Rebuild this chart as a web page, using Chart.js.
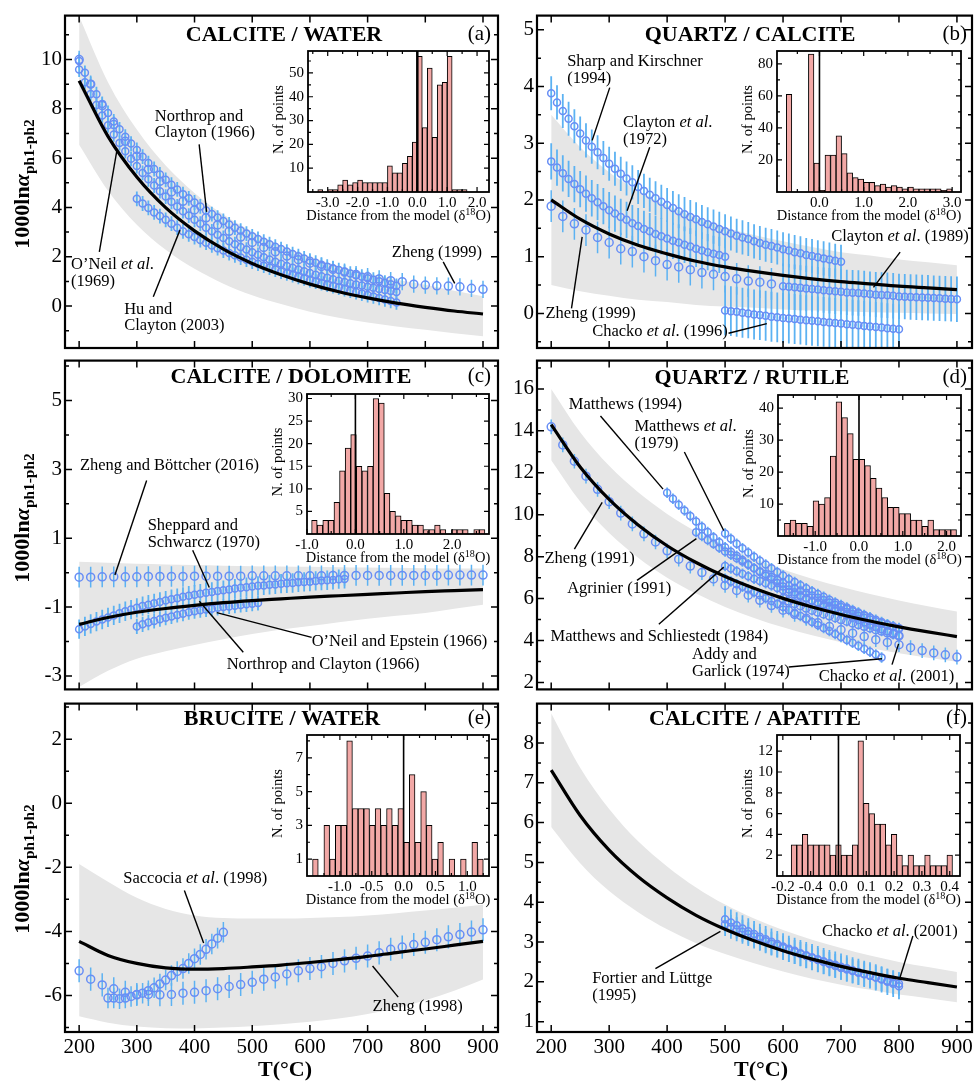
<!DOCTYPE html>
<html><head><meta charset="utf-8">
<script src="https://cdn.jsdelivr.net/npm/chart.js@4.4.1/dist/chart.umd.min.js"></script>
<style>
html,body{margin:0;padding:0;background:#fff;}
#wrap{position:relative;width:980px;height:1089px;overflow:hidden;background:#fff;}
#wrap canvas{position:absolute;}
</style></head><body><div id="wrap"></div>
<script>
// ================= DATA =================
const X_TICKS=[200,300,400,500,600,700,800,900];
const T_MODEL=[200,250,300,350,400,450,500,550,600,650,700,750,800,850,900];
const T_20=[200,220,240,260,280,300,320,340,360,380,400,420,440,460,480,500,520,540,560,580,600,620,640,660,680,700,720,740,760,780,800,820,840,860,880,900];
const T_200_750=[200,210,220,230,240,250,260,270,280,290,300,310,320,330,340,350,360,370,380,390,400,410,420,430,440,450,460,470,480,490,500,510,520,530,540,550,560,570,580,590,600,610,620,630,640,650,660,670,680,690,700,710,720,730,740,750];
const T_300_750=[300,310,320,330,340,350,360,370,380,390,400,410,420,430,440,450,460,470,480,490,500,510,520,530,540,550,560,570,580,590,600,610,620,630,640,650,660,670,680,690,700,710,720,730,740,750];
const T_200_700=[200,210,220,230,240,250,260,270,280,290,300,310,320,330,340,350,360,370,380,390,400,410,420,430,440,450,460,470,480,490,500,510,520,530,540,550,560,570,580,590,600,610,620,630,640,650,660,670,680,690,700];
const T_200_500=[200,210,220,230,240,250,260,270,280,290,300,310,320,330,340,350,360,370,380,390,400,410,420,430,440,450,460,470,480,490,500];
const T_200_580=[200,220,240,260,280,300,320,340,360,380,400,420,440,460,480,500,520,540,560,580];
const T_500_800=[500,510,520,530,540,550,560,570,580,590,600,610,620,630,640,650,660,670,680,690,700,710,720,730,740,750,760,770,780,790,800];
const T_600_900=[600,610,620,630,640,650,660,670,680,690,700,710,720,730,740,750,760,770,780,790,800,810,820,830,840,850,860,870,880,890,900];
const T_200_660=[200,210,220,230,240,250,260,270,280,290,300,310,320,330,340,350,360,370,380,390,400,410,420,430,440,450,460,470,480,490,500,510,520,530,540,550,560,570,580,590,600,610,620,630,640,650,660];
const T_300_510=[300,310,320,330,340,350,360,370,380,390,400,410,420,430,440,450,460,470,480,490,500,510];
const T_400_800=[400,410,420,430,440,450,460,470,480,490,500,510,520,530,540,550,560,570,580,590,600,610,620,630,640,650,660,670,680,690,700,710,720,730,740,750,760,770,780,790,800];
const T_450_750=[450,460,470,480,490,500,510,520,530,540,550,560,570,580,590,600,610,620,630,640,650,660,670,680,690,700,710,720,730,740,750];
const T_500_770=[500,510,520,530,540,550,560,570,580,590,600,610,620,630,640,650,660,670,680,690,700,710,720,730,740,750,760,770];
const T_600_800=[600,610,620,630,640,650,660,670,680,690,700,710,720,730,740,750,760,770,780,790,800];
const T_250_450=[250,260,270,280,290,300,310,320,330,340,350,360,370,380,390,400,410,420,430,440,450];

// (a) calcite / water
const aModel=[9.14,6.88,5.23,3.99,3.05,2.31,1.73,1.27,0.89,0.58,0.33,0.12,-0.05,-0.20,-0.32];
const aBandHi=[11.74,9.08,7.16,5.70,4.59,3.71,3.02,2.46,2.01,1.63,1.33,1.07,0.86,0.62,0.40];
const aBandLo=[6.54,4.68,3.30,2.28,1.51,0.91,0.44,0.08,-0.23,-0.47,-0.67,-0.83,-0.96,-1.10,-1.22];
const aNorthrop=[9.94,9.46,9.01,8.59,8.20,7.83,7.49,7.17,6.87,6.59,6.33,6.06,5.80,5.56,5.34,5.12,4.92,4.73,4.54,4.37,4.20,4.04,3.88,3.73,3.59,3.45,3.31,3.18,3.06,2.94,2.83,2.72,2.61,2.51,2.41,2.31,2.21,2.11,2.02,1.93,1.84,1.76,1.68,1.60,1.53,1.46,1.39,1.32,1.25,1.19,1.13,1.07,1.01,0.95,0.89,0.82];
const aONeil=[9.59,9.08,8.60,8.15,7.73,7.33,6.96,6.61,6.28,5.97,5.68,5.40,5.14,4.89,4.66,4.44,4.23,4.04,3.85,3.67,3.50,3.34,3.18,3.03,2.89,2.76,2.63,2.51,2.40,2.29,2.18,2.08,1.98,1.89,1.80,1.72,1.63,1.55,1.48,1.41,1.34,1.27,1.21,1.15,1.09,1.03,0.98,0.93,0.88,0.83,0.78,0.74,0.69,0.65,0.61,0.57];
const aHu=[4.35,4.16,3.98,3.80,3.65,3.50,3.34,3.18,3.03,2.91,2.80,2.68,2.57,2.46,2.35,2.25,2.15,2.06,1.97,1.88,1.80,1.72,1.64,1.56,1.48,1.40,1.33,1.26,1.19,1.12,1.05,0.99,0.93,0.87,0.81,0.75,0.69,0.63,0.57,0.51,0.45,0.39,0.33,0.27,0.21,0.15];
const aZheng=[10.0,9.0,8.13,7.36,6.68,6.08,5.54,5.06,4.63,4.25,3.90,3.58,3.29,3.03,2.80,2.58,2.38,2.20,2.03,1.88,1.74,1.61,1.49,1.38,1.28,1.19,1.10,1.03,0.99,0.89,0.85,0.82,0.81,0.78,0.72,0.68];

// (b) quartz / calcite
const bModel=[2.00,1.66,1.40,1.20,1.05,0.92,0.82,0.74,0.67,0.61,0.56,0.52,0.48,0.45,0.42];
const bBandHi=[3.50,2.93,2.49,2.16,1.90,1.69,1.52,1.38,1.27,1.17,1.08,1.02,0.95,0.90,0.85];
const bBandLo=[0.50,0.39,0.31,0.24,0.20,0.15,0.12,0.10,0.07,0.05,0.04,0.02,0.01,0.00,-0.01];
const bSharp=[3.88,3.72,3.57,3.43,3.30,3.17,3.05,2.94,2.84,2.74,2.64,2.55,2.46,2.38,2.31,2.23,2.16,2.09,2.03,1.97,1.91,1.86,1.80,1.75,1.70,1.66,1.61,1.57,1.53,1.49,1.45,1.41,1.37,1.34,1.31,1.27,1.24,1.21,1.19,1.16,1.13,1.11,1.08,1.06,1.03,1.01,0.99,0.97,0.95,0.93,0.91];
const bClayton72=[2.68,2.57,2.47,2.37,2.28,2.19,2.11,2.03,1.96,1.89,1.82,1.76,1.70,1.65,1.59,1.54,1.49,1.45,1.40,1.36,1.32,1.28,1.25,1.21,1.18,1.14,1.11,1.08,1.05,1.03,1.00];
const bZheng=[1.89,1.71,1.58,1.47,1.34,1.25,1.14,1.09,1.00,0.93,0.86,0.82,0.77,0.72,0.69,0.65,0.61,0.57,0.55,0.52];
const bChacko=[0.05,0.04,0.03,0.01,0.00,-0.02,-0.03,-0.04,-0.06,-0.07,-0.08,-0.09,-0.10,-0.11,-0.12,-0.13,-0.14,-0.15,-0.16,-0.17,-0.18,-0.19,-0.20,-0.21,-0.22,-0.23,-0.24,-0.25,-0.26,-0.27,-0.28];
const bClayton89=[0.48,0.47,0.46,0.45,0.44,0.43,0.42,0.41,0.40,0.39,0.38,0.37,0.365,0.36,0.35,0.34,0.33,0.325,0.32,0.31,0.30,0.295,0.29,0.285,0.28,0.275,0.27,0.265,0.26,0.255,0.25];

// (c) calcite / dolomite
const cModel=[-1.50,-1.30,-1.15,-1.04,-0.95,-0.87,-0.81,-0.76,-0.71,-0.67,-0.63,-0.59,-0.55,-0.52,-0.49];
const cBandHi=[0.32,0.29,0.26,0.24,0.22,0.20,0.19,0.18,0.17,0.16,0.15,0.14,0.13,0.12,0.12];
const cBandLo=[-3.32,-2.85,-2.50,-2.28,-2.10,-1.93,-1.78,-1.65,-1.55,-1.44,-1.34,-1.25,-1.17,-1.05,-0.93];
const cZhengB=[-0.13,-0.13,-0.12,-0.12,-0.12,-0.12,-0.11,-0.11,-0.11,-0.11,-0.10,-0.10,-0.10,-0.10,-0.10,-0.09,-0.09,-0.09,-0.09,-0.09,-0.09,-0.09,-0.08,-0.08,-0.08,-0.08,-0.08,-0.08,-0.08,-0.08,-0.08,-0.08,-0.07,-0.07,-0.07,-0.07];
const cSheppard=[-1.64,-1.56,-1.49,-1.42,-1.36,-1.30,-1.24,-1.18,-1.12,-1.07,-1.02,-0.97,-0.93,-0.89,-0.85,-0.81,-0.77,-0.74,-0.70,-0.67,-0.64,-0.61,-0.58,-0.56,-0.53,-0.51,-0.49,-0.46,-0.44,-0.42,-0.40,-0.38,-0.37,-0.35,-0.34,-0.32,-0.31,-0.30,-0.28,-0.27,-0.26,-0.24,-0.23,-0.22,-0.21,-0.19,-0.18];
const cONeil=[-1.56,-1.50,-1.45,-1.40,-1.35,-1.31,-1.27,-1.23,-1.19,-1.15,-1.12,-1.09,-1.07,-1.05,-1.02,-1.00,-0.98,-0.96,-0.94,-0.92,-0.90,-0.88];

// (d) quartz / rutile
const dModel=[14.30,12.28,10.73,9.51,8.52,7.72,7.05,6.49,6.01,5.60,5.24,4.93,4.65,4.41,4.19];
const dBandHi=[16.00,13.93,12.33,11.07,10.04,9.20,8.50,7.90,7.39,6.95,6.56,6.22,5.91,5.64,5.39];
const dBandLo=[12.60,10.63,9.13,7.95,7.00,6.24,5.60,5.08,4.63,4.25,3.92,3.64,3.39,3.18,2.99];
const dZheng=[14.19,13.33,12.55,11.84,11.21,10.62,10.08,9.56,9.09,8.70,8.28,7.88,7.55,7.24,6.94,6.63,6.39,6.16,5.92,5.67,5.45,5.25,5.06,4.85,4.67,4.51,4.35,4.19,4.04,3.91,3.80,3.66,3.52,3.41,3.32,3.21];
const dMatthews94=[11.05,10.76,10.48,10.20,9.94,9.68,9.43,9.18,8.93,8.69,8.45,8.24,8.04,7.84,7.64,7.45,7.27,7.09,6.92,6.75,6.58,6.44,6.30,6.16,6.03,5.90,5.78,5.66,5.55,5.43,5.32,5.21,5.09,4.98,4.86,4.75,4.65,4.54,4.44,4.33,4.23];
const dMatthews79=[9.10,8.85,8.62,8.40,8.20,8.00,7.81,7.63,7.45,7.27,7.10,6.94,6.79,6.64,6.49,6.35,6.22,6.09,5.95,5.82,5.70,5.58,5.46,5.34,5.22,5.10,4.99,4.88,4.77,4.66,4.55];
const dAgrinier=[9.17,8.98,8.79,8.61,8.43,8.25,8.09,7.93,7.77,7.61,7.45,7.31,7.17,7.03,6.89,6.75,6.63,6.51,6.39,6.27,6.15,6.04,5.93,5.82,5.71,5.60,5.50,5.40,5.30,5.20,5.10];
const dSchliestedt=[7.55,7.43,7.31,7.19,7.07,6.95,6.84,6.73,6.62,6.51,6.40,6.30,6.20,6.10,6.00,5.90,5.81,5.72,5.63,5.54,5.45,5.36,5.27,5.18,5.09,5.00,4.92,4.84,4.76,4.68,4.60];
const dAddy=[6.95,6.82,6.69,6.56,6.43,6.30,6.16,6.02,5.88,5.74,5.60,5.46,5.31,5.17,5.02,4.88,4.74,4.60,4.46,4.31,4.17,4.03,3.89,3.75,3.61,3.47,3.33,3.19];
const dChacko=[6.00,5.88,5.77,5.66,5.55,5.45,5.36,5.27,5.18,5.09,5.00,4.92,4.84,4.76,4.68,4.60,4.52,4.45,4.37,4.30,4.22];

// (e) brucite / water
const eModel=[-4.31,-4.75,-5.00,-5.14,-5.18,-5.16,-5.11,-5.05,-4.97,-4.88,-4.78,-4.66,-4.55,-4.43,-4.31];
const eBandHi=[-1.90,-2.45,-2.95,-3.30,-3.50,-3.58,-3.60,-3.60,-3.58,-3.55,-3.50,-3.43,-3.35,-3.26,-3.17];
const eBandLo=[-6.65,-6.85,-6.97,-7.02,-7.03,-7.00,-6.96,-6.90,-6.82,-6.72,-6.58,-6.40,-6.15,-5.85,-5.50];
const eZheng=[-5.23,-5.49,-5.67,-5.79,-5.90,-5.97,-5.97,-5.98,-5.97,-5.93,-5.90,-5.85,-5.79,-5.72,-5.66,-5.59,-5.49,-5.42,-5.33,-5.23,-5.16,-5.10,-5.00,-4.92,-4.84,-4.77,-4.67,-4.56,-4.49,-4.41,-4.34,-4.26,-4.17,-4.10,-4.02,-3.95];
const eSaccocia=[-6.08,-6.08,-6.10,-6.08,-6.03,-5.98,-5.93,-5.85,-5.76,-5.64,-5.52,-5.38,-5.25,-5.16,-5.00,-4.85,-4.72,-4.56,-4.39,-4.21,-4.03];

// (f) calcite / apatite
const fModel=[7.32,6.18,5.31,4.64,4.11,3.67,3.32,3.03,2.78,2.57,2.39,2.23,2.09,1.98,1.87];
const fBandHi=[8.75,7.38,6.34,5.53,4.90,4.37,3.94,3.59,3.30,3.06,2.85,2.66,2.50,2.37,2.25];
const fBandLo=[5.89,4.98,4.28,3.75,3.32,2.97,2.70,2.47,2.26,2.08,1.93,1.80,1.68,1.59,1.49];
const fFortier=[3.57,3.49,3.42,3.34,3.27,3.20,3.13,3.07,3.01,2.95,2.89,2.83,2.78,2.72,2.67,2.62,2.57,2.52,2.47,2.43,2.38,2.34,2.29,2.25,2.20,2.16,2.11,2.06,2.00,1.95,1.89];
const fChacko=[3.45,3.38,3.32,3.26,3.20,3.14,3.08,3.02,2.96,2.91,2.85,2.80,2.75,2.70,2.65,2.60,2.55,2.50,2.45,2.40,2.35,2.31,2.27,2.23,2.19,2.15,2.11,2.07,2.03,1.99,1.95];

// inset histograms (bin centres, counts)
const insA_x=[-3.25,-3.083,-2.917,-2.75,-2.583,-2.417,-2.25,-2.083,-1.917,-1.75,-1.583,-1.417,-1.25,-1.083,-0.917,-0.75,-0.583,-0.417,-0.25,-0.083,0.083,0.25,0.417,0.583,0.75,0.917,1.083,1.25,1.417,1.583];
const insA_n=[1,0,1,1,3,5,3,4,5,4,4,4,4,4,11,8,8,12,15,21,57,27,52,23,45,46,57,1,1,1];
const insB_x=[-0.6875,-0.5625,-0.4375,-0.3125,-0.1875,-0.0625,0.0625,0.1875,0.3125,0.4375,0.5625,0.6875,0.8125,0.9375,1.0625,1.1875,1.3125,1.4375,1.5625,1.6875,1.8125,1.9375,2.0625,2.1875,2.3125,2.4375,2.5625,2.6875,2.8125,2.9375];
const insB_n=[61,0,0,0,86,18,1,23,23,35,24,12,9,8,6,6,4,5,3,4,3,2,3,2,2,2,2,2,1,2];
const insC_x=[-0.847,-0.732,-0.616,-0.501,-0.385,-0.270,-0.154,-0.039,0.077,0.193,0.308,0.424,0.539,0.655,0.770,0.886,1.001,1.117,1.232,1.348,1.463,1.579,1.694,1.810,1.925,2.041,2.156,2.272,2.387,2.503,2.618];
const insC_n=[3,2,3,3,7,14,19,22,15,14,15,30,29,9,5,4,3,3,2,2,1,1,2,1,0,1,1,1,0,1,1];
const insD_x=[-1.638,-1.507,-1.376,-1.245,-1.114,-0.983,-0.852,-0.721,-0.590,-0.459,-0.328,-0.197,-0.066,0.066,0.197,0.328,0.459,0.590,0.721,0.852,0.983,1.114,1.245,1.376,1.507,1.638,1.769,1.900,2.031,2.162];
const insD_n=[4,5,4,4,3,11,10,12,25,42,37,32,24,24,22,18,15,12,9,9,7,7,5,5,3,5,2,2,2,2];
const insE_x=[-1.384,-1.295,-1.206,-1.116,-1.027,-0.938,-0.848,-0.759,-0.670,-0.580,-0.491,-0.402,-0.313,-0.223,-0.134,-0.045,0.045,0.134,0.223,0.313,0.402,0.491,0.580,0.670,0.759,0.848,0.938,1.027,1.116,1.206];
const insE_n=[1,0,3,1,3,3,8,4,4,4,3,4,3,4,3,4,2,6,2,5,3,1,2,0,1,0,1,0,2,1];
const insF_x=[-0.16,-0.14,-0.12,-0.10,-0.08,-0.06,-0.04,-0.02,0,0.02,0.04,0.06,0.08,0.10,0.12,0.14,0.16,0.18,0.20,0.22,0.24,0.26,0.28,0.30,0.32,0.34,0.36,0.38,0.40];
const insF_n=[3,3,4,3,3,3,3,2,3,2,2,3,13,7,6,5,5,3,4,2,1,2,1,1,2,1,1,1,2];
const insF_ticks=[-0.2,-0.1,0,0.1,0.2,0.3,0.4];
const insF_labels=['-0.2','-0.4','0.0','0.1','0.2','0.3','0.4'];

// ================= STYLE / HELPERS =================
const SERIF='"Liberation Serif","Times New Roman",Times,serif';
const CIRC='rgb(104,142,245)', ERRC='rgb(92,178,242)', GREY='rgb(230,230,230)', BARC='rgb(242,168,166)';
const NOTE_SIZE=16.5, NOTE_LH=16.7;
const X_RANGE=[175.5,926];
const wrap=document.getElementById('wrap');
function pts(xs,ys){return xs.map((x,i)=>({x:x,y:ys[i]}));}
function newCanvas(b){const c=document.createElement('canvas');c.width=b.w;c.height=b.h;c.style.left=b.l+'px';c.style.top=b.t+'px';c.style.width=b.w+'px';c.style.height=b.h+'px';wrap.appendChild(c);return c;}
// padding leaves room for fixed-size axis boxes (wy = y-axis width, hx = x-axis height)
function pad(b,f,wy,hx){return {left:f.l-b.l-wy,top:f.t-b.t,right:b.l+b.w-f.r,bottom:b.t+b.h-f.b-hx};}
function parseRich(s){const out=[];const re=/\*([^*]+)\*|\^\{([^}]+)\}|_\{([^}]+)\}/g;let last=0,m;
 while((m=re.exec(s))!==null){if(m.index>last)out.push({t:s.slice(last,m.index),k:'n'});
  if(m[1]!==undefined)out.push({t:m[1],k:'i'});else if(m[2]!==undefined)out.push({t:m[2],k:'sup'});else out.push({t:m[3],k:'sub'});
  last=re.lastIndex;}
 if(last<s.length)out.push({t:s.slice(last),k:'n'});return out;}
function drawRich(c,s,x,y,size,weight,align){
 const parts=parseRich(s);let w=0;
 parts.forEach(p=>{const sz=(p.k==='sup'||p.k==='sub')?size*0.7:size;p.f=(p.k==='i'?'italic ':'')+weight+' '+sz+'px '+SERIF;c.font=p.f;p.w=c.measureText(p.t).width;w+=p.w;});
 let cx=align==='center'?x-w/2:(align==='right'?x-w:x);
 c.textAlign='left';
 parts.forEach(p=>{c.font=p.f;const dy=p.k==='sup'?-size*0.36:(p.k==='sub'?size*0.24:0);c.fillText(p.t,cx,y+dy);cx+=p.w;});}

function makeDeco(o){
 return {id:'deco',
  beforeDraw(chart){ if(!o.white)return; const a=chart.chartArea,c=chart.ctx;c.save();c.fillStyle='#fff';c.fillRect(a.left,a.top,a.right-a.left,a.bottom-a.top);c.restore();},
  afterDatasetDraw(chart,args){
   const ds=chart.data.datasets[args.index]; if(!ds.errHook)return;
   const c=chart.ctx,a=chart.chartArea,ys=chart.scales.y;
   c.save();c.beginPath();c.rect(a.left,a.top,a.right-a.left,a.bottom-a.top);c.clip();c.strokeStyle=ERRC;
   chart.data.datasets.forEach((d,i)=>{ if(d.errs==null)return; const meta=chart.getDatasetMeta(i); c.lineWidth=d.errW||1.2; c.beginPath();
     d.data.forEach((p,j)=>{const el=meta.data[j]; if(!el)return; c.moveTo(el.x,ys.getPixelForValue(p.y-d.errs)); c.lineTo(el.x,ys.getPixelForValue(p.y+d.errs));});
     c.stroke();});
   c.restore();},
  afterDraw(chart){
   const c=chart.ctx,a=chart.chartArea,xs=chart.scales.x,ys=chart.scales.y,bx=o.box;
   c.save();
   if(o.zero){const px=xs.getPixelForValue(0);c.strokeStyle='#000';c.lineWidth=o.zero;c.beginPath();c.moveTo(px,a.bottom);c.lineTo(px,a.top);c.stroke();}
   const tk=o.ticks;c.strokeStyle='#000';c.lineWidth=tk.tw;c.beginPath();
   const hx=(v,L)=>{const p=xs.getPixelForValue(v);c.moveTo(p,a.bottom);c.lineTo(p,a.bottom-L);c.moveTo(p,a.top);c.lineTo(p,a.top+L);};
   const hy=(v,L)=>{const p=ys.getPixelForValue(v);c.moveTo(a.left,p);c.lineTo(a.left+L,p);c.moveTo(a.right,p);c.lineTo(a.right-L,p);};
   tk.xMaj.forEach(v=>hx(v,tk.maj));(tk.xMin||[]).forEach(v=>hx(v,tk.min));tk.yMaj.forEach(v=>hy(v,tk.maj));(tk.yMin||[]).forEach(v=>hy(v,tk.min));
   c.stroke();
   c.lineWidth=tk.lw;c.strokeRect(a.left,a.top,a.right-a.left,a.bottom-a.top);
   c.fillStyle='#000';
   (o.notes||[]).forEach(n=>{
     if(n.lead){c.lineWidth=1.4;c.beginPath();c.moveTo(xs.getPixelForValue(n.lead[0][0]),ys.getPixelForValue(n.lead[0][1]));c.lineTo(xs.getPixelForValue(n.lead[1][0]),ys.getPixelForValue(n.lead[1][1]));c.stroke();}
     c.textBaseline='middle';const x0=xs.getPixelForValue(n.x),y0=ys.getPixelForValue(n.y);
     n.t.forEach((line,i)=>drawRich(c,line,x0,y0+i*NOTE_LH,NOTE_SIZE,'normal','left'));
   });
   (o.texts||[]).forEach(t=>{
     c.textBaseline=t.base||'alphabetic';const x=t.x-bx.l,y=t.y-bx.t;
     if(t.rot){c.save();c.translate(x,y);c.rotate(-Math.PI/2);drawRich(c,t.t,0,0,t.size,t.weight||'normal','center');c.restore();}
     else drawRich(c,t.t,x,y,t.size,t.weight||'normal',t.align||'left');
   });
   c.restore();}
 };
}

// dense series: r 3.5, error-bar width 1.8 ; sparse series: r 4, width 1.5
function sc(T,V,err,sparse){return {type:'scatter',data:pts(T,V),errs:err,errW:sparse?1.5:1.8,pointRadius:sparse?4:3.5,pointBorderWidth:1.5,pointBorderColor:CIRC,pointBackgroundColor:'rgba(0,0,0,0)',borderColor:CIRC,backgroundColor:'rgba(0,0,0,0)',showLine:false,order:5};}
function band(T,hi,lo){return [
 {type:'line',data:pts(T,hi),borderWidth:0,borderColor:'rgba(0,0,0,0)',pointRadius:0,fill:false,cubicInterpolationMode:'monotone',order:9},
 {type:'line',data:pts(T,lo),borderWidth:0,borderColor:'rgba(0,0,0,0)',pointRadius:0,fill:'-1',backgroundColor:GREY,cubicInterpolationMode:'monotone',order:9,errHook:true}];}
function model(T,V){return {type:'line',data:pts(T,V),borderColor:'#000',borderWidth:3.2,pointRadius:0,fill:false,cubicInterpolationMode:'monotone',order:1};}

const NOGRID={display:false,drawTicks:false,drawOnChartArea:false};
const MAIN_WY=42, MAIN_HX=30;
function mainChart(box,frame,yr,yLab,yMin,datasets,notes,texts,showX){
 const c=newCanvas(box);
 const hx=showX?MAIN_HX:0;
 return new Chart(c,{type:'scatter',data:{datasets:datasets},options:{
  responsive:false,animation:false,devicePixelRatio:1,events:[],
  layout:{padding:pad(box,frame,MAIN_WY,hx)},
  scales:{
   x:{type:'linear',min:X_RANGE[0],max:X_RANGE[1],grid:NOGRID,border:{display:false},
      afterBuildTicks:s=>{s.ticks=X_TICKS.map(v=>({value:v}));},afterFit:s=>{s.height=hx;},
      ticks:{display:showX,autoSkip:false,maxRotation:0,minRotation:0,padding:3,color:'#000',font:{family:SERIF,size:21},callback:v=>String(v)}},
   y:{type:'linear',min:yr[0],max:yr[1],grid:NOGRID,border:{display:false},
      afterBuildTicks:s=>{s.ticks=yLab.map(v=>({value:v}));},afterFit:s=>{s.width=MAIN_WY;},
      ticks:{autoSkip:false,padding:3,color:'#000',font:{family:SERIF,size:21},callback:v=>String(v)}}
  },
  plugins:{legend:{display:false},tooltip:{enabled:false}}},
  plugins:[makeDeco({box:box,ticks:{lw:2.2,tw:1.5,maj:7,min:4,xMaj:X_TICKS,xMin:[],yMaj:yLab,yMin:yMin},notes:notes,texts:texts})]});
}

const INS_WY=28, INS_HX=22;
function insetChart(box,frame,xr,yr,cx,cy,xLab,xMin,yLab,yMin,xFmt,zeroW){
 const c=newCanvas(box);
 const texts=[{t:'Distance from the model (δ^{18}O)',x:(frame.l+frame.r)/2,y:frame.b+28,size:14.5,align:'center'},
   {t:'N. of points',x:frame.l-29,y:(frame.t+frame.b)/2,size:14.5,rot:true,base:'middle'}];
 return new Chart(c,{type:'bar',data:{datasets:[{data:pts(cx,cy),backgroundColor:BARC,borderColor:'#000',borderWidth:1,barPercentage:1,categoryPercentage:1}]},
  options:{responsive:false,animation:false,devicePixelRatio:1,events:[],layout:{padding:pad(box,frame,INS_WY,INS_HX)},
   scales:{x:{type:'linear',offset:false,min:xr[0],max:xr[1],grid:NOGRID,border:{display:false},afterBuildTicks:s=>{s.ticks=xLab.map(v=>({value:v}));},afterFit:s=>{s.height=INS_HX;},
      ticks:{autoSkip:false,maxRotation:0,minRotation:0,padding:2,color:'#000',font:{family:SERIF,size:15},callback:xFmt}},
     y:{type:'linear',min:yr[0],max:yr[1],grid:NOGRID,border:{display:false},afterBuildTicks:s=>{s.ticks=yLab.map(v=>({value:v}));},afterFit:s=>{s.width=INS_WY;},
      ticks:{autoSkip:false,padding:4,color:'#000',font:{family:SERIF,size:15},callback:v=>String(v)}}},
   plugins:{legend:{display:false},tooltip:{enabled:false}}},
  plugins:[makeDeco({box:box,white:true,zero:zeroW,ticks:{lw:1.8,tw:1.2,maj:5,min:3,xMaj:xLab,xMin:xMin,yMaj:yLab,yMin:yMin},texts:texts})]});
}
const fmt1=v=>Number(v).toFixed(1);
const YT='1000ln*α*_{ph1-ph2}';

// ================= PANELS =================
// (a)
mainChart({l:0,t:0,w:510,h:365},{l:65,t:15,r:498,b:348},[-1.70,11.78],[0,2,4,6,8,10],[-1,1,3,5,7,9,11],
 [...band(T_MODEL,aBandHi,aBandLo),sc(T_200_750,aNorthrop,0.3),sc(T_200_750,aONeil,0.3),sc(T_300_750,aHu,0.3),sc(T_20,aZheng,0.35,true),model(T_MODEL,aModel)],
 [{t:['Northrop and','Clayton (1966)'],x:331,y:7.69,lead:[[408,6.56],[421,3.82]]},
  {t:['O’Neil *et al*.','(1969)'],x:186,y:1.66,lead:[[235,2.20],[265,6.25]]},
  {t:['Hu and','Clayton (2003)'],x:278,y:-0.13,lead:[[328.5,0.38],[374.7,3.08]]},
  {t:['Zheng (1999)'],x:742,y:2.17,lead:[[831,1.79],[851,0.92]]}],
 [{t:'CALCITE / WATER',x:284,y:41,size:22,weight:'bold',align:'center'},{t:'(a)',x:491,y:40,size:21,align:'right'},
  {t:YT,x:29,y:184,size:22,weight:'bold',rot:true}],false);
// (b)
mainChart({l:490,t:0,w:490,h:365},{l:537,t:15,r:972,b:348},[-0.61,5.25],[0,1,2,3,4,5],[-0.5,0.5,1.5,2.5,3.5,4.5],
 [...band(T_MODEL,bBandHi,bBandLo),sc(T_200_700,bSharp,0.3),sc(T_200_500,bClayton72,0.32),sc(T_200_580,bZheng,0.28,true),sc(T_500_800,bChacko,0.44),sc(T_600_900,bClayton89,0.4),model(T_MODEL,bModel)],
 [{t:['Sharp and Kirschner','(1994)'],x:227.6,y:4.43,lead:[[301,3.98],[270.7,3.05]]},
  {t:['Clayton *et al*.','(1972)'],x:324,y:3.36,lead:[[370,2.93],[331,1.81]]},
  {t:['Clayton *et al*. (1989)'],x:683,y:1.36,lead:[[802,1.08],[756,0.46]]},
  {t:['Zheng (1999)'],x:190.2,y:0.0,lead:[[235,0.09],[253.4,1.35]]},
  {t:['Chacko *et al*. (1996)'],x:270.7,y:-0.33,lead:[[506,-0.35],[572,-0.18]]}],
 [{t:'QUARTZ / CALCITE',x:750,y:41,size:22,weight:'bold',align:'center'},{t:'(b)',x:967,y:40,size:21,align:'right'}],false);
// (c)
mainChart({l:0,t:345,w:510,h:360},{l:65,t:358,r:498,b:691},[-3.39,6.16],[-3,-1,1,3,5],[-2,0,2,4,6],
 [...band(T_MODEL,cBandHi,cBandLo),sc(T_20,cZhengB,0.3,true),sc(T_200_660,cSheppard,0.28),sc(T_300_510,cONeil,0.22),model(T_MODEL,cModel)],
 [{t:['Zheng and Böttcher (2016)'],x:201.3,y:3.12,lead:[[317,2.68],[262,-0.07]]},
  {t:['Sheppard and','Schwarcz (1970)'],x:318.8,y:1.37,lead:[[396.8,0.65],[425.6,-0.43]]},
  {t:['O’Neil and Epstein (1966)'],x:603,y:-2.01,lead:[[603,-1.88],[438.5,-1.16]]},
  {t:['Northrop and Clayton (1966)'],x:455.7,y:-2.68,lead:[[484.5,-2.31],[408.3,-0.83]]}],
 [{t:'CALCITE / DOLOMITE',x:291,y:383,size:22,weight:'bold',align:'center'},{t:'(c)',x:491,y:382,size:21,align:'right'},
  {t:YT,x:29,y:518,size:22,weight:'bold',rot:true}],false);
// (d)
mainChart({l:490,t:345,w:490,h:360},{l:537,t:358,r:972,b:691},[1.67,17.35],[2,4,6,8,10,12,14,16],[3,5,7,9,11,13,15,17],
 [...band(T_MODEL,dBandHi,dBandLo),sc(T_20,dZheng,0.35,true),sc(T_400_800,dMatthews94,0.25),sc(T_500_800,dMatthews79,0.25),sc(T_450_750,dAgrinier,0.25),sc(T_500_800,dSchliestedt,0.25),sc(T_500_770,dAddy,0.25),sc(T_600_800,dChacko,0.25,true),model(T_MODEL,dModel)],
 [{t:['Matthews (1994)'],x:230.3,y:15.25,lead:[[285,14.71],[393,11.22]]},
  {t:['Matthews *et al*.','(1979)'],x:343.6,y:14.2,lead:[[429.8,12.99],[497.6,9.25]]},
  {t:['Zheng (1991)'],x:188.4,y:7.89,lead:[[240,8.36],[288,10.59]]},
  {t:['Agrinier (1991)'],x:227.6,y:6.46,lead:[[348,6.87],[450.5,8.86]]},
  {t:['Matthews and Schliestedt (1984)'],x:198.8,y:4.2,lead:[[385.7,4.78],[497.8,7.5]]},
  {t:['Addy and','Garlick (1974)'],x:443,y:3.32,lead:[[609.7,2.74],[770.7,3.13]]},
  {t:['Chacko *et al*. (2001)'],x:661.4,y:2.27,lead:[[788,2.85],[799.3,3.84]]}],
 [{t:'QUARTZ / RUTILE',x:752,y:384,size:22,weight:'bold',align:'center'},{t:'(d)',x:967,y:383,size:21,align:'right'}],false);
// (e)
mainChart({l:0,t:688,w:510,h:401},{l:65,t:699,r:498,b:1032},[-7.14,3.11],[-6,-4,-2,0,2],[-7,-5,-3,-1,1,3],
 [...band(T_MODEL,eBandHi,eBandLo),sc(T_20,eZheng,0.36,true),sc(T_250_450,eSaccocia,0.32,true),model(T_MODEL,eModel)],
 [{t:['Saccocia *et al*. (1998)'],x:276.5,y:-2.36,lead:[[382.4,-2.72],[415.8,-4.36]]},
  {t:['Zheng (1998)'],x:708.6,y:-6.34,lead:[[753,-6.05],[708.6,-5.08]]}],
 [{t:'BRUCITE / WATER',x:282,y:725,size:22,weight:'bold',align:'center'},{t:'(e)',x:491,y:724,size:21,align:'right'},
  {t:YT,x:29,y:869,size:22,weight:'bold',rot:true},{t:'T(°C)',x:285,y:1076,size:22,weight:'bold',align:'center'}],true);
// (f)
mainChart({l:490,t:688,w:490,h:401},{l:537,t:700,r:972,b:1032},[0.74,8.99],[1,2,3,4,5,6,7,8],[1.5,2.5,3.5,4.5,5.5,6.5,7.5,8.5],
 [...band(T_MODEL,fBandHi,fBandLo),sc(T_500_800,fFortier,0.33),sc(T_500_800,fChacko,0.3),model(T_MODEL,fModel)],
 [{t:['Fortier and Lüttge','(1995)'],x:270.7,y:2.08,lead:[[379.8,2.33],[491.9,3.27]]},
  {t:['Chacko *et al*. (2001)'],x:667.4,y:3.25,lead:[[824,3.15],[802,2.12]]}],
 [{t:'CALCITE / APATITE',x:755,y:725,size:22,weight:'bold',align:'center'},{t:'(f)',x:967,y:724,size:21,align:'right'},
  {t:'T(°C)',x:761,y:1076,size:22,weight:'bold',align:'center'}],true);

// ================= INSETS =================
insetChart({l:262,t:38,w:233,h:192},{l:308,t:47,r:489,b:192},[-3.66,2.40],[0,59.2],insA_x,insA_n,[-3,-2,-1,0,1,2],[-3.5,-2.5,-1.5,-0.5,0.5,1.5],[10,20,30,40,50],[5,15,25,35,45,55],fmt1,2.5);
insetChart({l:732,t:38,w:245,h:192},{l:777,t:47,r:961,b:192},[-0.96,3.20],[0,88],insB_x,insB_n,[0,1,2,3],[-0.5,0.5,1.5,2.5],[20,40,60,80],[10,30,50,70],fmt1,1.6);
insetChart({l:262,t:381,w:233,h:192},{l:307,t:390,r:489,b:534},[-1.0,2.76],[0,31],insC_x,insC_n,[-1,0,1,2],[-0.5,0.5,1.5,2.5],[5,10,15,20,25,30],[],fmt1,1.6);
insetChart({l:732,t:382,w:245,h:192},{l:778,t:391,r:961,b:536},[-1.85,2.33],[0,44.1],insD_x,insD_n,[-1,0,1,2],[-1.5,-0.5,0.5,1.5],[10,20,30,40],[5,15,25,35],fmt1,1.6);
insetChart({l:262,t:722,w:233,h:192},{l:307,t:731,r:489,b:876},[-1.516,1.34],[0,8.35],insE_x,insE_n,[-1,-0.5,0,0.5,1],[-1.25,-0.75,-0.25,0.25,0.75,1.25],[1,3,5,7],[2,4,6,8],fmt1,1.6);
insetChart({l:732,t:722,w:245,h:192},{l:777,t:731,r:960,b:876},[-0.221,0.437],[0,13.56],insF_x,insF_n,insF_ticks,[],[2,4,6,8,10,12],[],(v,i)=>insF_labels[i],1.6);
</script></body></html>
